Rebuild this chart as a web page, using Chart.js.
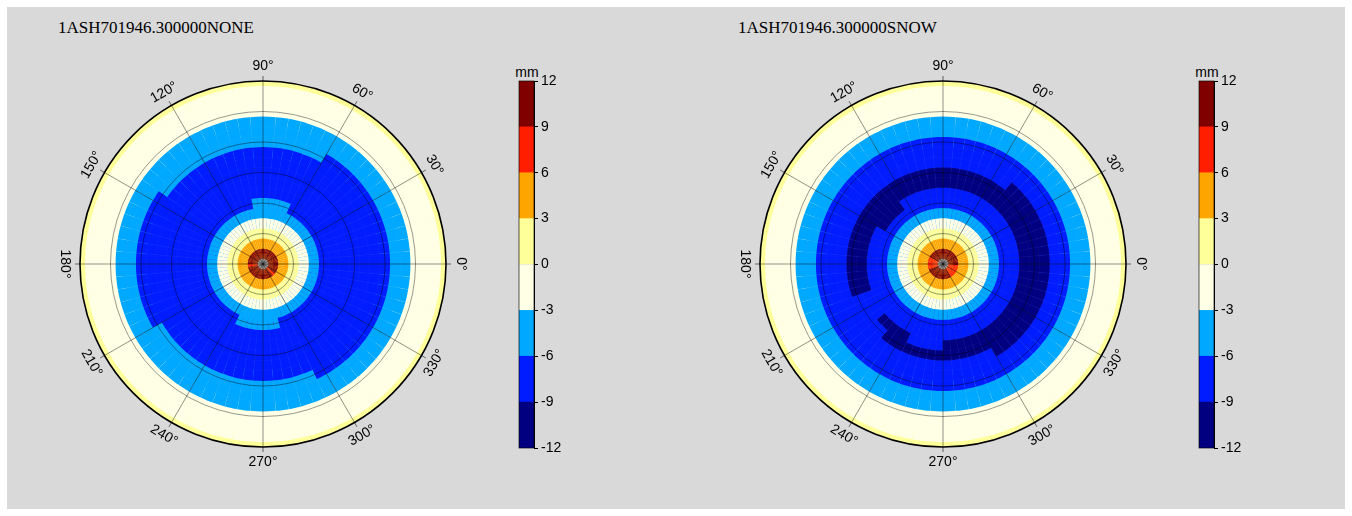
<!DOCTYPE html>
<html>
<head>
<meta charset="utf-8">
<script src="https://cdn.jsdelivr.net/npm/chart.js@4.4.1/dist/chart.umd.min.js"></script>
<style>
  html, body { margin: 0; padding: 0; background: #ffffff; }
  #fig { position: absolute; left: 7px; top: 7px; width: 1338px; height: 502px; background: #d9d9d9; }
  canvas { position: absolute; }
  .title { position: absolute; font: 17px "Liberation Serif", "Times New Roman", serif; line-height: 17px; color: #000; white-space: nowrap; }
  .unit { position: absolute; font: 14px "Liberation Sans", Arial, sans-serif; line-height: 14px; color: #000; width: 40px; text-align: center; }
</style>
</head>
<body>
<div id="fig"></div>
<div class="title" style="left:58px; top:19px;">1ASH701946.300000NONE</div>
<div class="title" style="left:738px; top:19px;">1ASH701946.300000SNOW</div>
<div class="unit" style="left:507px; top:65px;">mm</div>
<div class="unit" style="left:1187px; top:65px;">mm</div>
<canvas id="polarNone" width="500" height="516" style="left:0px; top:0px;"></canvas>
<canvas id="barNone" width="70" height="400" style="left:500px; top:60px;"></canvas>
<canvas id="polarSnow" width="500" height="516" style="left:680px; top:0px;"></canvas>
<canvas id="barSnow" width="70" height="400" style="left:1180px; top:60px;"></canvas>
<script>
// ---- grid definition ----
const zenithDeg = [0, 5, 10, 15, 20, 25, 30, 35, 40, 45, 50, 55, 60, 65, 70, 75, 80, 85, 90];
const azimuthStep = 5;                 // degrees per azimuth cell
const azimuthLabels = [0, 30, 60, 90, 120, 150, 180, 210, 240, 270, 300, 330];

// ---- colour scale (mm) ----
const colorEdges = [-12, -9, -6, -3, 0, 3, 6, 9, 12];
const colorSteps = ['#000080', '#001cff', '#00a8ff', '#ffffe6', '#ffff99', '#ffa500', '#ff1e00', '#800000'];

// ---- phase centre variations, mm ----
// ring value per zenith angle, then cells that differ: [zenith index, az from, az to, value]
const noneRingValues = [0, 10.4, 4.6, 1.5, -1.4, -4.3, -6.5, -7.4, -7.9, -8.1, -7.8, -7.0, -6.3, -5.1, -3.6, -2.5, -1.6, -0.7, 0.6];
const noneCellValues = [
  [1, 180, 190, 8.3], [1, 310, 320, 8.5],
  [6, 65, 100, -5.7], [6, 245, 285, -5.8],
  [12, 60, 145, -5.7], [12, 210, 295, -5.6]
];
const snowRingValues = [0, 10.2, 4.8, 1.7, -1.3, -4.4, -6.7, -8.2, -9.5, -9.7, -8.8, -7.6, -6.5, -5.2, -3.7, -2.5, -1.6, -0.7, 0.6];
const snowCellValues = [
  [1, 150, 200, 8.1], [1, 300, 355, 8.3],
  [7, 125, 150, -9.3],
  [8, 200, 220, -8.6], [8, 245, 270, -8.6],
  [9, 200, 230, -8.7],
  [10, 300, 360, -9.3], [10, 0, 50, -9.3]
];

const nSectors = 360 / azimuthStep;

function colorFor(v) {
  for (let j = 0; j < colorSteps.length; j++) {
    if (v < colorEdges[j + 1]) return colorSteps[j];
  }
  return colorSteps[colorSteps.length - 1];
}

function cellValue(ringValues, cellValues, k, az) {
  let v = ringValues[k];
  for (const [ring, a0, a1, val] of cellValues) {
    if (ring === k && az >= a0 && az < a1) v = val;
  }
  return v;
}

// Sector i runs clockwise from east, so it covers azimuth [355 - 5i, 360 - 5i).
function buildDatasets(ringValues, cellValues) {
  return zenithDeg.map((z, k) => {
    const outer = Math.min(z + azimuthStep / 2, 90);
    const data = [], colors = [];
    for (let i = 0; i < nSectors; i++) {
      const az = 360 - azimuthStep * (i + 1);
      data.push(outer);
      colors.push(k === 0 ? '#f6f6f6' : colorFor(cellValue(ringValues, cellValues, k, az)));
    }
    return {
      data: data,
      backgroundColor: colors,
      borderColor: k === 0 ? 'rgba(110,110,110,0.5)' : 'rgba(255,255,255,0.06)',
      borderWidth: k === 0 ? 0.5 : 0.6
    };
  });
}

const sectorLabels = [];
for (let i = 0; i < nSectors; i++) sectorLabels.push(String((360 - azimuthStep * i) % 360));

// azimuth labels, rotated along the rim, with short ticks outside the rim
const azimuthLabelPlugin = {
  id: 'azimuthLabels',
  afterDraw(chart) {
    const s = chart.scales.r;
    const ctx = chart.ctx;
    ctx.save();
    ctx.font = '14px "Liberation Sans", Arial, sans-serif';
    ctx.fillStyle = '#000';
    ctx.textAlign = 'center';
    ctx.textBaseline = 'middle';
    azimuthLabels.forEach(az => {
      const idx = ((360 - az) / azimuthStep) % nSectors;
      const t0 = s.getPointPosition(idx, s.drawingArea);
      const t1 = s.getPointPosition(idx, s.drawingArea + 5);
      ctx.strokeStyle = 'rgba(0,0,0,0.7)';
      ctx.lineWidth = 0.8;
      ctx.beginPath();
      ctx.moveTo(t0.x, t0.y);
      ctx.lineTo(t1.x, t1.y);
      ctx.stroke();
      const p = s.getPointPosition(idx, s.drawingArea + 15);
      const rot = az < 180 ? 90 - az : 270 - az;
      ctx.save();
      ctx.translate(p.x, p.y);
      ctx.rotate(rot * Math.PI / 180);
      ctx.fillText(az + '\u00B0', 0, 0);
      ctx.restore();
    });
    ctx.restore();
  }
};

function makePolar(id, ringValues, cellValues) {
  return new Chart(document.getElementById(id), {
    type: 'polarArea',
    data: { labels: sectorLabels, datasets: buildDatasets(ringValues, cellValues) },
    options: {
      responsive: false,
      animation: false,
      layout: { padding: { left: 80, top: 81, right: 54, bottom: 69 } },
      plugins: { legend: { display: false }, tooltip: { enabled: false } },
      scales: {
        r: {
          min: 0,
          max: 90,
          startAngle: 90,
          ticks: { display: false, stepSize: 15 },
          pointLabels: { display: false },
          grid: {
            z: 1,
            circular: true,
            color: c => c.tick && c.tick.value === 90 ? '#000000' : 'rgba(0,0,0,0.5)',
            lineWidth: c => c.tick && c.tick.value === 90 ? 1.6 : 0.8
          },
          angleLines: {
            display: true,
            color: 'rgba(0,0,0,0.55)',
            lineWidth: c => (c.index % 6 === 0 ? 0.8 : 0)
          }
        }
      }
    },
    plugins: [azimuthLabelPlugin]
  });
}

// colour bar
const barFrame = {
  id: 'barFrame',
  afterDraw(chart) {
    const a = chart.chartArea, ctx = chart.ctx;
    ctx.save();
    ctx.strokeStyle = 'rgba(0,0,0,0.8)';
    ctx.lineWidth = 0.8;
    ctx.strokeRect(a.left, a.top, a.right - a.left, a.bottom - a.top);
    ctx.restore();
  }
};

function makeColorBar(id) {
  const datasets = colorSteps.map((c, j) => ({
    data: [[colorEdges[j], colorEdges[j + 1]]],
    backgroundColor: c,
    borderWidth: 0,
    grouped: false,
    barPercentage: 1,
    categoryPercentage: 1
  }));
  return new Chart(document.getElementById(id), {
    type: 'bar',
    data: { labels: ['mm'], datasets: datasets },
    options: {
      responsive: false,
      animation: false,
      layout: { padding: { left: 19, top: 21, right: 0, bottom: 12 } },
      plugins: { legend: { display: false }, tooltip: { enabled: false } },
      scales: {
        x: { display: false },
        y: {
          position: 'right',
          min: colorEdges[0],
          max: colorEdges[colorEdges.length - 1],
          afterFit: s => { s.width = 36; },
          ticks: { stepSize: 3, padding: 3, color: '#000', font: { family: '"Liberation Sans", Arial, sans-serif', size: 14 } },
          grid: { drawOnChartArea: false, tickLength: 4, color: '#000' },
          border: { display: true, color: '#000' }
        }
      }
    },
    plugins: [barFrame]
  });
}

makePolar('polarNone', noneRingValues, noneCellValues);
makePolar('polarSnow', snowRingValues, snowCellValues);
makeColorBar('barNone');
makeColorBar('barSnow');
</script>
</body>
</html>
